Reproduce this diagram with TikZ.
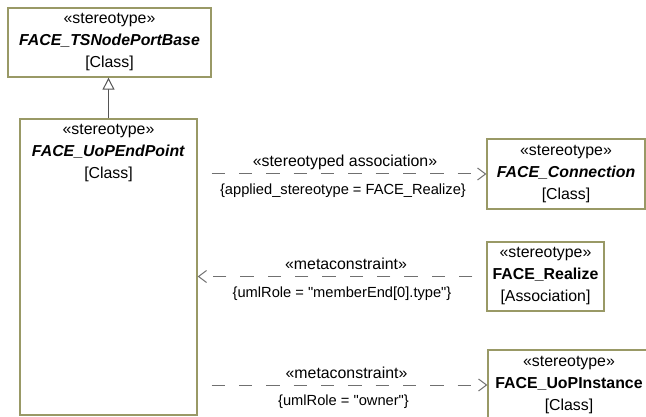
\documentclass[tikz,border=0pt]{standalone}
\usepackage{fontspec}
\setmainfont{Liberation Sans}
\usetikzlibrary{%
	calc,%
	arrows.meta,%
	positioning,%
}
\definecolor{cborder}{RGB}{153, 153, 102}
\definecolor{cline}{RGB}{112, 112, 112}
\definecolor{cgen}{RGB}{85, 85, 85}
\newcommand{\stereoname}[1]{\textbf{\textit{#1}}}
\newcommand{\dq}{\textquotedbl}
\tikzset{
	nodes={align=center, font={\fontsize{11.9}{16.5}\selectfont}},%
	classbox/.style={%
			draw=cborder,%
			rectangle,%
			line width=1pt,%
			inner sep=0pt,%
			fill=white},%
	boxtext/.style={%
			inner sep=0pt},%
	reltext/.style={%
			inner sep=0pt,%
			anchor=base},%
	tagtext/.style={%
			inner sep=0pt,%
			font={\fontsize{11}{13}\selectfont}},%
	dep/.style={%
			draw=cline,%
			line width=0.75pt,%
			dash pattern=on 10pt off 10.5pt,%
			dash phase=10pt,%
			-{Straight Barb[length=6pt, width=9pt]}},%
	gen/.style={%
			draw=cgen,%
			line width=0.75pt,%
			-{Triangle[open, length=9pt, width=9pt, fill=white]}},%
}

\begin{document}
\begin{tikzpicture}[x=0.75pt, y=-0.75pt]%
	\useasboundingbox (0,0) rectangle (646,417);

	\node[classbox, minimum width=152.25pt, minimum height=51.75pt] (base) at (109.5,42.5) {«stereotype»\\ \stereoname{FACE\_TSNodePortBase}\\ {[Class]}};
	\node[classbox, minimum width=132.75pt, minimum height=222pt] (endpt) at (108.5,267) {};
	\node[boxtext] (endpttext) at ($(endpt.north)+(0,35)$) {«stereotype»\\ \stereoname{FACE\_UoPEndPoint}\\ {[Class]}};

	\node[classbox, minimum width=118.5pt, minimum height=52.5pt] (conn) at (566,174) {«stereotype»\\ \stereoname{FACE\_Connection}\\ {[Class]}};
	\node[classbox, minimum width=87.75pt, minimum height=51.75pt] (realize) at (545.5,276.5) {«stereotype»\\ \textbf{FACE\_Realize}\\ {[Association]}};
	\node[classbox, minimum width=121.5pt, minimum height=52.5pt] (inst) at (569,385) {«stereotype»\\ \textbf{FACE\_UoPInstance}\\ {[Class]}};

	\draw[gen] (endpt.north) to (endpt.north |- base.south);
	\draw[dep] (endpt.east |- conn.west) to (conn.west);
	\draw[dep] (realize.west) to (endpt.east |- realize.west);
	\draw[dep] (endpt.east |- inst.west) to (inst.west);

	\node[reltext] (conntop) at ($(endpt.east |- conn.west)!0.5!(conn.west)+(3,-7)$) {«stereotyped association»};
	\node[tagtext] (connbot) at ($(endpt.east |- conn.west)!0.5!(conn.west)+(1,17)$) {\{applied\_stereotype = FACE\_Realize\}};
	\node[reltext] (realtop) at ($(endpt.east |- realize.west)!0.5!(realize.west)+(4,-7)$) {«metaconstraint»};
	\node[tagtext] (realbot) at ($(endpt.east |- realize.west)!0.5!(realize.west)+(0,17)$) {\{umlRole = \dq memberEnd[0].type\dq\}};
	\node[reltext] (insttop) at ($(endpt.east |- inst.west)!0.5!(inst.west)+(4,-7)$) {«metaconstraint»};
	\node[tagtext] (instbot) at ($(endpt.east |- inst.west)!0.5!(inst.west)+(1,17)$) {\{umlRole = \dq owner\dq\}};
\end{tikzpicture}
\end{document}
